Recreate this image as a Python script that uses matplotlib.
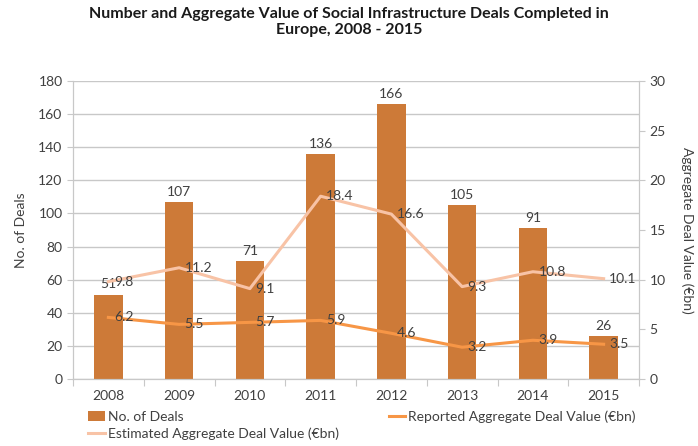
import matplotlib.pyplot as plt
import numpy as np

# Data
years = ['2008', '2009', '2010', '2011', '2012', '2013', '2014', '2015']
deals = [51, 107, 71, 136, 166, 105, 91, 26]
reported = [6.2, 5.5, 5.7, 5.9, 4.6, 3.2, 3.9, 3.5]
estimated = [9.8, 11.2, 9.1, 18.4, 16.6, 9.3, 10.8, 10.1]

barColor = '#CD7A38'
reportedColor = '#F79646'
estimatedColor = '#F8C3A6'
textColor = '#404040'
gridColor = '#C8C8C8'

plt.rcParams['font.family'] = ['Lato', 'DejaVu Sans']

fig = plt.figure(figsize=(6.98, 4.46), dpi=100)
ax = fig.add_axes([73 / 698, 1 - 379 / 446, 566 / 698, 298 / 446])
ax2 = ax.twinx()

x = np.arange(len(years))
bars = ax.bar(x, deals, width=0.4, color=barColor, label='No. of Deals', zorder=2)
for xi, d in zip(x, deals):
    ax.annotate(str(d), (xi, d), xytext=(0, 3), textcoords='offset points',
                ha='center', va='bottom', fontsize=10, color=textColor)

repLine, = ax2.plot(x, reported, color=reportedColor, lw=2.2, label='Reported Aggregate Deal Value (€bn)', zorder=3)
estLine, = ax2.plot(x, estimated, color=estimatedColor, lw=2.2, label='Estimated Aggregate Deal Value (€bn)', zorder=3)
for xi, v in zip(x, reported):
    ax2.annotate('{:.1f}'.format(v), (xi, v), xytext=(4, 0), textcoords='offset points',
                 ha='left', va='center', fontsize=10, color=textColor)
for xi, v in zip(x, estimated):
    ax2.annotate('{:.1f}'.format(v), (xi, v), xytext=(4, 0), textcoords='offset points',
                 ha='left', va='center', fontsize=10, color=textColor)

ax.set_xlim(-0.5, len(years) - 0.5)
ax.set_ylim(0, 180)
ax.set_yticks(range(0, 181, 20))
ax2.set_ylim(0, 30)
ax2.set_yticks(range(0, 31, 5))
ax.set_xticks(np.arange(len(years) + 1) - 0.5, minor=False)
ax.set_xticklabels([])
ax.set_xticks(x, minor=True)
ax.set_xticklabels(years, minor=True)
ax.tick_params(axis='x', which='minor', length=0, pad=8, labelsize=10, labelcolor=textColor)
ax.tick_params(axis='x', which='major', length=5, color=gridColor)
ax.tick_params(axis='y', length=4, color=gridColor, labelsize=10, labelcolor=textColor)
ax2.tick_params(axis='y', length=4, color=gridColor, labelsize=10, labelcolor=textColor)

ax.grid(True, axis='y', color=gridColor, lw=1, zorder=0)
ax.set_axisbelow(True)
for a in (ax, ax2):
    a.spines['top'].set_visible(False)
    for s in ('left', 'right', 'bottom'):
        a.spines[s].set_color(gridColor)

ax.set_ylabel('No. of Deals', fontsize=10, color=textColor, labelpad=8)
ax2.set_ylabel('Aggregate Deal Value (€bn)', fontsize=10, color=textColor, rotation=270, labelpad=20)

fig.suptitle('Number and Aggregate Value of Social Infrastructure Deals Completed in\nEurope, 2008 - 2015',
             x=0.5, y=0.985, fontsize=11.5, fontweight='bold', color='#1a1a1a')

# column-wise fill: deals + estimated in first column, reported in second
handles = [bars, estLine, repLine]
labels = [h.get_label() for h in handles]
fig.legend(handles, labels, loc='lower left', bbox_to_anchor=(80 / 698, -0.005), ncol=2,
           frameon=False, fontsize=10, labelcolor=textColor, handlelength=1.2, handletextpad=0.2,
           columnspacing=3.6, borderaxespad=0.2, labelspacing=0.3)

fig.savefig('out.png', dpi=100)
